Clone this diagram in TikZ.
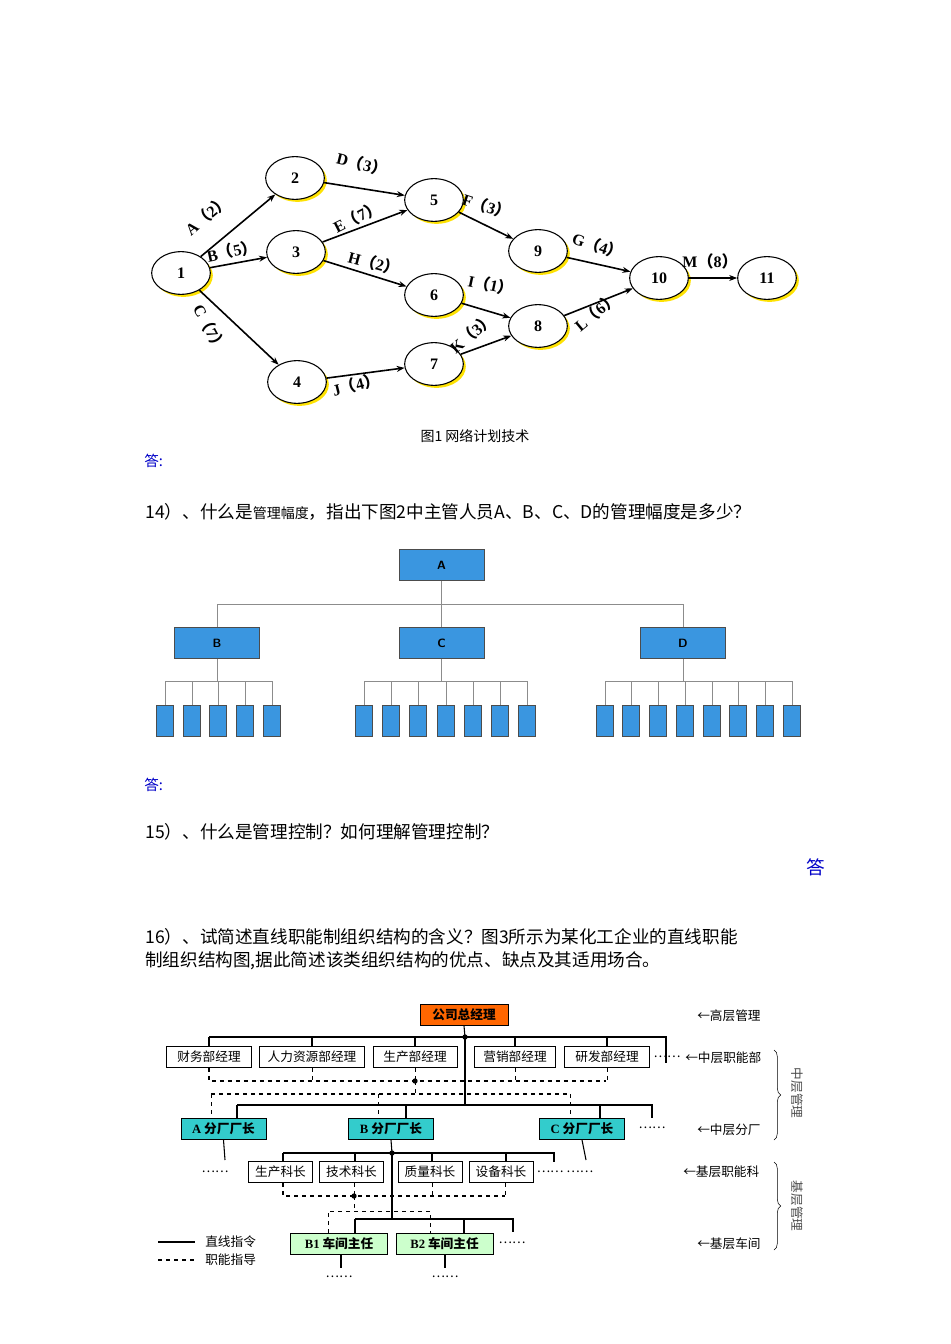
\documentclass[tikz,border=0pt]{standalone}
\usepackage{fontspec}
\setmainfont{Liberation Serif}
\newfontfamily\cjk{Noto Sans CJK SC}
\newcommand{\pl}{{\cjk （}}
\newcommand{\pr}{{\cjk ）}}
\usetikzlibrary{shapes.geometric,arrows.meta,decorations.pathreplacing}
\definecolor{ansblue}{RGB}{0,0,200}
\definecolor{boxblue}{RGB}{58,150,224}
\definecolor{orgorange}{RGB}{255,102,0}
\definecolor{orgcyan}{RGB}{51,204,204}
\definecolor{orggreen}{RGB}{204,255,204}
\tikzset{
  x=0.75pt,y=-0.75pt,
  ev/.style={ellipse,draw,thick,minimum width=44pt,minimum height=32pt,fill=white,font=\bfseries\large},
  earr/.style={-{Stealth[length=6pt]},very thick},
  elab/.style={font=\bfseries\large,inner sep=0},
  txt/.style={font=\cjk\fontsize{13.2}{15}\selectfont,anchor=west,inner sep=0},
  ans/.style={font=\cjk\fontsize{11}{13}\selectfont,text=ansblue,anchor=west,inner sep=0},
  bbox/.style={draw=black!70,fill=boxblue,font=\sffamily\bfseries\small,inner sep=0},
  sbox/.style={draw=black!70,fill=boxblue,minimum width=12.5pt,minimum height=23pt,inner sep=0},
  gl/.style={draw=black!45},
  wbox/.style={draw,fill=white,font=\cjk\fontsize{9.5}{11}\selectfont,inner sep=1.5pt,minimum height=16pt},
  cbox/.style={draw,font=\cjk\bfseries\fontsize{9.5}{11}\selectfont,inner sep=2pt,minimum height=16pt},
  sl/.style={thick},
  dl/.style={thick,dashed},
  tl/.style={font=\cjk\fontsize{9.5}{11}\selectfont,inner sep=0},
}
\begin{document}
\begin{tikzpicture}
\useasboundingbox[fill=white] (0,0) rectangle (950,1344);
% ---------- network ----------
\foreach \n/\x/\y in {1/181/273,2/295/178,3/296/252,4/297/382,5/434/200,6/434/295,7/434/364,8/538/326,9/538/251,10/659/278,11/767/278}{
  \fill[yellow!85!orange] (\x+2.5,\y+2.5) ellipse (22pt and 16pt);
  \node[ev] (n\n) at (\x,\y) {\n};
}
\draw[earr] (n1) -- (n2);
\draw[earr] (n1) -- (n3);
\draw[earr] (n1) -- (n4);
\draw[earr] (n2) -- (n5);
\draw[earr] (n3) -- (n5);
\draw[earr] (n3) -- (n6);
\draw[earr] (n4) -- (n7);
\draw[earr] (n5) -- (n9);
\draw[earr] (n6) -- (n8);
\draw[earr] (n7) -- (n8);
\draw[earr] (n9) -- (n10);
\draw[earr] (n8) -- (n10);
\draw[-{Stealth[length=6pt]},thick] (n10) -- (n11);
\node[elab,rotate=40] (la) at (207,215) {A\pl 2\pr};
\node[elab,rotate=12] (lb) at (232,251) {B\pl 5\pr};
\node[elab,rotate=-62] (lc) at (210,328) {C\pl 7\pr};
\node[elab,rotate=-14] (ld) at (362,164) {D\pl 3\pr};
\node[elab,rotate=27] (le) at (357,217) {E\pl 7\pr};
\node[elab,rotate=-15] (lh) at (374,263) {H\pl 2\pr};
\node[elab,rotate=-18] (lf) at (487,206) {F\pl 3\pr};
\node[elab,rotate=-12] (li) at (491,285) {I\pl 1\pr};
\node[elab,rotate=40] (lk) at (472,333) {K\pl 3\pr};
\node[elab,rotate=14] (lj) at (356,385) {J\pl 4\pr};
\node[elab,rotate=-18] (lg) at (598,246) {G\pl 4\pr};
\node[elab,rotate=40] (ll) at (596,312) {L\pl 6\pr};
\node[elab] (lm) at (710,261) {M\pl 8\pr};
\node[font=\cjk\fontsize{10.5}{12}\selectfont] (cap1) at (475,436) {图1\ 网络计划技术};
\node[ans] (a1) at (144,461) {答:};
% ---------- text ----------
\node[txt] (q14) at (145,512) {14）、什么是{\fontsize{10.5}{12}\selectfont 管理幅度}，指出下图2中主管人员A、B、C、D的管理幅度是多少？};
% ---------- chart 2 ----------
\node[bbox,minimum width=64pt,minimum height=23pt] (A) at (441.5,565) {A};
\node[bbox,minimum width=64pt,minimum height=23pt] (B) at (217,643) {B};
\node[bbox,minimum width=64pt,minimum height=23pt] (C) at (441.5,643) {C};
\node[bbox,minimum width=64pt,minimum height=23pt] (D) at (683,643) {D};
\coordinate (hA) at (441.5,604);
\draw[gl] (A.south) -- (hA);
\draw[gl] (217,604) -- (683,604);
\draw[gl] (217,604) -- (B.north);
\draw[gl] (hA) -- (C.north);
\draw[gl] (683,604) -- (D.north);
\draw[gl] (B.south) -- (217,681);
\draw[gl] (C.south) -- (441.5,681);
\draw[gl] (D.south) -- (683,681);
\draw[gl] (165,681) -- (272,681);
\draw[gl] (364,681) -- (527,681);
\draw[gl] (605,681) -- (792,681);
\foreach \x [count=\i] in {165,192,218,245,272}{\node[sbox] (sb\i) at (\x,720.5) {}; \draw[gl] (\x,681) -- (sb\i.north);}
\foreach \x [count=\i] in {364,391,418,446,473,500,527}{\node[sbox] (sc\i) at (\x,720.5) {}; \draw[gl] (\x,681) -- (sc\i.north);}
\foreach \x [count=\i] in {605,631,658,685,712,738,765,792}{\node[sbox] (sd\i) at (\x,720.5) {}; \draw[gl] (\x,681) -- (sd\i.north);}
\node[ans] (a2) at (144,785) {答:};
\node[txt] (q15) at (145,832) {15）、什么是管理控制？如何理解管理控制？};
\node[font=\cjk\fontsize{14}{16}\selectfont,text=ansblue] (a3) at (816,867) {答};
\node[txt] (q16a) at (145,937) {16）、试简述直线职能制组织结构的含义？图3所示为某化工企业的直线职能};
\node[txt] (q16b) at (145,961) {制组织结构图,据此简述该类组织结构的优点、缺点及其适用场合。};
% ---------- chart 3 ----------
\node[cbox,fill=orgorange,minimum width=66pt] (gm) at (464,1015) {公司总经理};
\foreach \nm/\t/\x/\w in {f1/财务部经理/209/64,f2/人力资源部经理/312/79,f3/生产部经理/415/63,f4/营销部经理/515/61,f5/研发部经理/607/64}{
  \node[wbox,minimum width=\w pt] (\nm) at (\x,1057) {\t};
}
\coordinate (j1) at (465,1037);
\draw[sl] (gm.south) -- (j1);
\fill (j1) circle (2pt);
\draw[sl] (209,1037) -- (666,1037) -- (666,1063);
\foreach \nm in {f1,f2,f3,f4,f5}{\draw[sl] (\nm.north|-j1) -- (\nm.north);}
\node[tl] (dots1) at (667,1057) {……};
\draw[dl] (f1.south) -- (209,1081) -- (606,1081);
\foreach \nm in {f2,f3,f4,f5}{\draw[dashed] (\nm.south) -- (\nm.south|-0,1081);}
\coordinate (j2) at (415,1081);
\fill (j2) circle (2pt);
\draw[dashed] (j2) -- (415,1094);
\draw[dl] (211,1094) -- (570,1094);
\coordinate (j3) at (465,1105);
\draw[sl] (j1) -- (j3);
\draw[sl] (237,1105) -- (652,1105) -- (652,1118);
\node[cbox,fill=orgcyan,minimum width=64pt] (fa) at (223.5,1129) {{\rmfamily A} 分厂厂长};
\node[cbox,fill=orgcyan,minimum width=64pt] (fb) at (391,1129) {{\rmfamily B} 分厂厂长};
\node[cbox,fill=orgcyan,minimum width=64pt] (fc) at (582,1129) {{\rmfamily C} 分厂厂长};
\draw[sl] (237,1105) -- (237,1118);
\draw[sl] (406,1105) -- (406,1118);
\draw[sl] (600,1105) -- (600,1118);
\draw[dashed] (211,1094) -- (211,1118);
\draw[dashed] (378,1094) -- (378,1118);
\draw[dashed] (570,1094) -- (570,1118);
\node[tl] (dots2) at (652,1128) {……};
\draw[sl] (fa.south) -- (225,1160);
\node[tl] (dots3) at (215,1172) {……};
\draw[sl] (fc.south) -- (586,1160);
\node[tl] (dots4) at (565,1172) {……\ ……};
\coordinate (j4) at (392,1153);
\draw[sl] (fb.south) -- (j4);
\fill (j4) circle (2pt);
\draw[sl] (283,1153) -- (554,1153) -- (554,1162);
\node[wbox,minimum width=48pt] (k1) at (280.5,1172) {生产科长};
\node[wbox,minimum width=48pt] (k2) at (351.5,1172) {技术科长};
\node[wbox,minimum width=48pt] (k3) at (430,1172) {质量科长};
\node[wbox,minimum width=48pt] (k4) at (501,1172) {设备科长};
\foreach \x in {283,355,432,506}{\draw[sl] (\x,1153) -- (\x,1161);}
\draw[dl] (283,1183) -- (283,1196) -- (505,1196);
\draw[dashed] (432,1183) -- (432,1196);
\draw[dashed] (505,1183) -- (505,1196);
\coordinate (j5) at (354,1196);
\draw[dashed] (354,1183) -- (j5);
\fill (j5) circle (2pt);
\draw[dashed] (j5) -- (354,1211);
\draw[dashed] (328,1233) -- (328,1211) -- (430,1211) -- (430,1233);
\coordinate (j6) at (392,1219);
\draw[sl] (j4) -- (j6);
\draw[sl] (355,1219) -- (513,1219) -- (513,1232);
\draw[sl] (355,1219) -- (355,1233);
\draw[sl] (464,1219) -- (464,1233);
\node[cbox,fill=orggreen,minimum width=73pt] (w1) at (339,1244) {{\rmfamily B1} 车间主任};
\node[cbox,fill=orggreen,minimum width=73pt] (w2) at (444.5,1244) {{\rmfamily B2} 车间主任};
\node[tl] (dots5) at (512,1243) {……};
\draw[sl] (341,1255) -- (341,1268);
\draw[sl] (445,1255) -- (445,1268);
\node[tl] (dots6) at (339,1277) {……};
\node[tl] (dots7) at (445,1277) {……};
\draw[sl] (158,1242) -- (195,1242);
\draw[dl] (158,1260) -- (195,1260);
\node[tl,anchor=west] (lg1) at (205,1242) {直线指令};
\node[tl,anchor=west] (lg2) at (205,1260) {职能指导};
\node[tl,anchor=west] (lv1) at (697,1016) {←高层管理};
\node[tl,anchor=west] (lv2) at (685,1058) {←中层职能部};
\node[tl,anchor=west] (lv3) at (697,1130) {←中层分厂};
\node[tl,anchor=west] (lv4) at (683,1172) {←基层职能科};
\node[tl,anchor=west] (lv5) at (697,1244) {←基层车间};
\draw[decorate,decoration={brace,amplitude=5pt}] (774,1050) -- (774,1140);
\draw[decorate,decoration={brace,amplitude=5pt}] (774,1162) -- (774,1250);
\node[tl,rotate=-90,text=black!70] (m1) at (797,1093) {中层管理};
\node[tl,rotate=-90,text=black!70] (m2) at (797,1206) {基层管理};
\end{tikzpicture}
\end{document}
